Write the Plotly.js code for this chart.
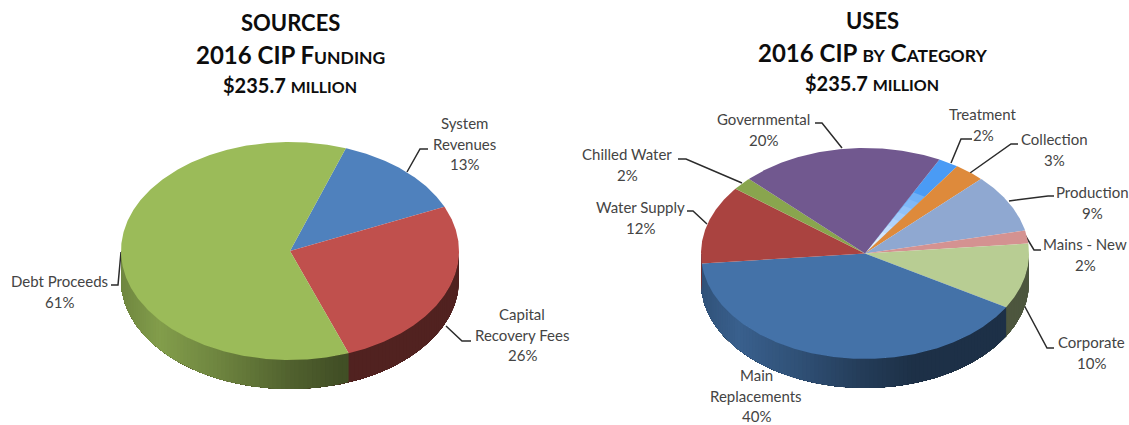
<!DOCTYPE html>
<html>
<head>
<meta charset="utf-8">
<script src="https://cdn.plot.ly/plotly-3.0.1.min.js"></script>
<style>html,body{margin:0;padding:0;background:#fff}#chart{width:1129px;height:425px}</style>
</head>
<body>
<div id="chart"></div>
<script>
// CIP funding sources, clockwise from the first slice
const sourceNames = ['System<br>Revenues', 'Capital<br>Recovery Fees', 'Debt Proceeds'];
const sourceValues = [13, 26, 61];
const sourceColors = ['#4F81BD', '#C0504D', '#9BBB59'];

// CIP uses by category, clockwise from the first slice
const useNames = ['Treatment', 'Collection', 'Production', 'Mains - New', 'Corporate',
  'Main<br>Replacements', 'Water Supply', 'Chilled Water', 'Governmental'];
const useValues = [2, 3, 9, 2, 10, 40, 12, 2, 20];
const useColors = ['#4A9BF5', '#DE8A3B', '#8FA8D1', '#D49291', '#B8CD93',
  '#4472A8', '#AA4340', '#89A54E', '#71588F'];

// Ellipse geometry of each tilted disc, in pixel-sized axis units
const sourceDisc = {cx: 290, cy: 251, rx: 169, ry: 109, depth: 29, start: 19.3};
const useDisc = {cx: 865, cy: 253.5, rx: 164, ry: 105.5, depth: 29, start: 27};

// Label anchors: centre x and first line y, one entry per slice
const sourceLabelX = [464, 522, 59];
const sourceLabelY = [123, 314, 281];
const useLabelX = [983, 1054, 1092, 1085, 1091, 756, 640, 627, 763];
const useLabelY = [114, 139, 192, 244, 342, 375, 207, 154, 119];
const lineGap = 20.5;

// Leader lines running from the rim to the label, null where a slice has none
const sourceLeaders = [
  [[407, 172], [420, 149], [428, 149]],
  [[446, 326], [462, 341], [471, 341]],
  [[121, 252], [118, 285], [111, 285]]
];
const useLeaders = [
  [[951, 163], [961, 139], [972, 139]],
  [[970, 173], [1011, 144], [1018, 144]],
  [[1009, 201], [1048, 196], [1054, 196]],
  [[1025, 235], [1034, 250], [1041, 250]],
  [[1024, 305], [1047, 348], [1054, 348]],
  null,
  [[707, 224], [693, 211], [687, 211]],
  [[742, 183], [686, 159], [678, 159]],
  [[842, 148], [822, 123], [815, 123]]
];

// Brightness of the wall relative to the face, by horizontal position across the disc
const wallShade = [[-1, 0.72], [-0.77, 0.84], [-0.4, 0.7], [0, 0.52], [0.3, 0.42], [1, 0.42]];

function shadeAt(u) {
  for (let i = 1; i < wallShade.length; i++) {
    if (u <= wallShade[i][0]) {
      const [a, sa] = wallShade[i - 1], [b, sb] = wallShade[i];
      return sa + (sb - sa) * (u - a) / (b - a);
    }
  }
  return wallShade[wallShade.length - 1][1];
}

function scaled(hex, k) {
  const n = parseInt(hex.slice(1), 16);
  const c = [n >> 16, (n >> 8) & 255, n & 255].map(v => Math.round(v * k));
  return `rgb(${c[0]},${c[1]},${c[2]})`;
}

function mix(hex, k) {
  const n = parseInt(hex.slice(1), 16);
  const c = [n >> 16, (n >> 8) & 255, n & 255].map(v => Math.round(v + (255 - v) * k));
  return `rgb(${c[0]},${c[1]},${c[2]})`;
}

const rim = (d, deg, r = 1, dy = 0) => {
  const t = deg * Math.PI / 180;
  return [d.cx + d.rx * r * Math.sin(t), d.cy - d.ry * r * Math.cos(t) + dy];
};

function polygon(points, color) {
  return {
    type: 'scatter', mode: 'lines', fill: 'toself', fillcolor: color,
    x: points.map(p => p[0]), y: points.map(p => p[1]),
    line: {width: 0}, hoverinfo: 'skip', showlegend: false
  };
}

function arc(d, from, to, dy = 0) {
  const pts = [];
  for (let a = from; a < to; a += 0.5) pts.push(rim(d, a, 1, dy));
  pts.push(rim(d, to, 1, dy));
  return pts;
}

function discTraces(d, values, colors, softInner) {
  const total = values.reduce((a, b) => a + b, 0);
  const bounds = [d.start];
  values.forEach(v => bounds.push(bounds[bounds.length - 1] + v / total * 360));
  const traces = [];

  // Front wall: each facet runs on to the far edge of the disc and the next one
  // paints over it, so neighbouring facets leave no gaps between them
  const step = 1.5;
  const edges = [];
  for (let a = 90; a < 270; a += step) edges.push(a);
  bounds.forEach(b => { if (b > 90 && b < 270) edges.push(b); });
  edges.sort((p, q) => p - q);
  edges.forEach((a, n) => {
    const next = n + 1 < edges.length ? edges[n + 1] : 270;
    const mid = (a + next) / 2;
    let k = values.findIndex((v, i) => mid >= bounds[i] && mid < bounds[i + 1]);
    if (k < 0) k = 0;
    const u = Math.sin(mid * Math.PI / 180);
    const upper = arc(d, a, 270);
    const lower = arc(d, a, 270, d.depth).reverse();
    traces.push(polygon(upper.concat(lower), scaled(colors[k], shadeAt(u))));
  });

  // Top face
  values.forEach((v, i) => {
    traces.push(polygon([[d.cx, d.cy]].concat(arc(d, bounds[i], bounds[i + 1])), colors[i]));
    if (softInner === i) {
      // this slice pales toward the hub
      for (let s = 1; s <= 8; s++) {
        const r = 0.72 - s * 0.07;
        const inner = [[d.cx, d.cy]];
        for (let a = bounds[i]; a < bounds[i + 1]; a += 0.5) inner.push(rim(d, a, r));
        inner.push(rim(d, bounds[i + 1], r));
        traces.push(polygon(inner, mix(colors[i], 0.12 + s * 0.09)));
      }
    }
  });
  return traces;
}

function leaderTraces(leaders) {
  return leaders.filter(Boolean).map(path => ({
    type: 'scatter', mode: 'lines',
    x: path.map(p => p[0]), y: path.map(p => p[1]),
    line: {color: '#2b2b2b', width: 1.5}, hoverinfo: 'skip', showlegend: false
  }));
}

function labelAnnotations(names, values, xs, ys) {
  const out = [];
  names.forEach((name, i) => {
    const lines = name.split('<br>').concat(values[i] + '%');
    lines.forEach((text, j) => out.push({
      x: xs[i], y: ys[i] + j * lineGap, xref: 'x', yref: 'y', text: text,
      showarrow: false, xanchor: 'center', yanchor: 'middle',
      font: {family: 'Lato, sans-serif', size: 15, color: '#444444'}
    }));
  });
  return out;
}

const sc = t => `<span style="font-size:17.5px">${t}</span>`;
function titleLine(x, y, text, size) {
  return {
    x: x, y: y, xref: 'x', yref: 'y', text: `<b>${text}</b>`, showarrow: false,
    xanchor: 'center', yanchor: 'middle',
    font: {family: 'Lato, sans-serif', size: size, color: '#0d0d0d'}
  };
}
const smallCaps = t => `<span style="font-size:16px">${t}</span>`;
const titles = [
  titleLine(290, 22, 'SOURCES', 22),
  titleLine(290, 54, '2016 CIP F' + sc('UNDING'), 24),
  titleLine(290, 85, '$235.7 ' + smallCaps('MILLION'), 20),
  titleLine(872, 20, 'USES', 22),
  titleLine(872, 52, '2016 CIP ' + sc('BY') + ' C' + sc('ATEGORY'), 24),
  titleLine(872, 83, '$235.7 ' + smallCaps('MILLION'), 20)
];

const traces = [
  ...leaderTraces(sourceLeaders),
  ...leaderTraces(useLeaders),
  ...discTraces(sourceDisc, sourceValues, sourceColors, -1),
  ...discTraces(useDisc, useValues, useColors, 0)
];

Plotly.newPlot('chart', traces, {
  width: 1129, height: 425,
  margin: {l: 0, r: 0, t: 0, b: 0},
  paper_bgcolor: '#ffffff', plot_bgcolor: '#ffffff',
  showlegend: false,
  xaxis: {range: [0, 1129], visible: false, fixedrange: true},
  yaxis: {range: [425, 0], visible: false, fixedrange: true},
  annotations: [
    ...titles,
    ...labelAnnotations(sourceNames, sourceValues, sourceLabelX, sourceLabelY),
    ...labelAnnotations(useNames, useValues, useLabelX, useLabelY)
  ]
}, {displayModeBar: false, staticPlot: true});
</script>
</body>
</html>
